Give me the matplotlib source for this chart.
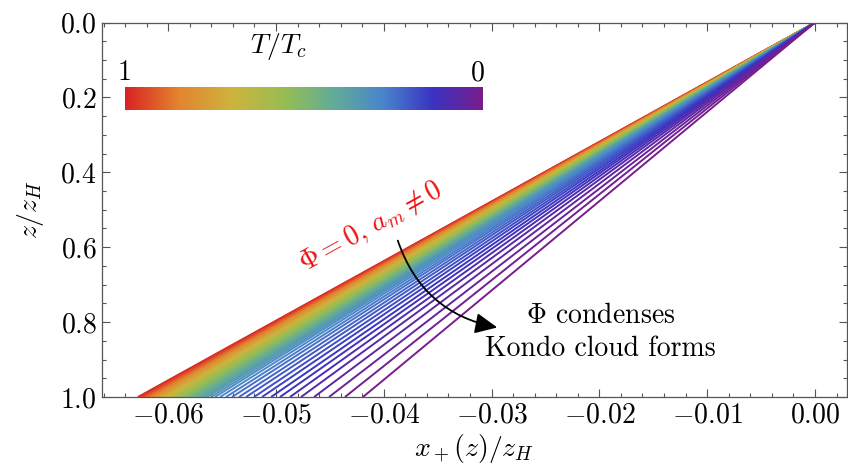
import numpy as np
import matplotlib
matplotlib.use("Agg")
import matplotlib.pyplot as plt
from matplotlib.colors import LinearSegmentedColormap
from matplotlib.patches import FancyArrowPatch

plt.rcParams['font.family'] = 'serif'
plt.rcParams['font.serif'] = ['cmr10']
plt.rcParams['mathtext.fontset'] = 'cm'
plt.rcParams['axes.formatter.use_mathtext'] = True

# T/Tc of each curve (1 -> 0) and where each curve reaches z/zH = 1
t_ratio = np.linspace(1.0, 0.0, 50)
x_end = [-0.06280, -0.06263, -0.06247, -0.06230, -0.06213, -0.06197, -0.06179,
         -0.06161, -0.06144, -0.06126, -0.06109, -0.06090, -0.06072, -0.06053,
         -0.06034, -0.06015, -0.05995, -0.05976, -0.05956, -0.05936, -0.05916,
         -0.05895, -0.05874, -0.05853, -0.05831, -0.05809, -0.05787, -0.05764,
         -0.05740, -0.05716, -0.05691, -0.05665, -0.05638, -0.05603, -0.05566,
         -0.05519, -0.05464, -0.05408, -0.05343, -0.05278, -0.05204, -0.05130,
         -0.05046, -0.04963, -0.04870, -0.04768, -0.04647, -0.04508, -0.04360,
         -0.04193]

rainbow = LinearSegmentedColormap.from_list("rainbow_m", [
    (0.00, "#d92323"), (0.15, "#e3852f"), (0.30, "#cdb43c"),
    (0.45, "#95bd55"), (0.58, "#63ad96"), (0.72, "#4a86cc"),
    (0.86, "#3a34c2"), (1.00, "#7a1c8c")])

fig = plt.figure(figsize=(8.48, 4.72), dpi=100)
ax = fig.add_axes([0.1199, 0.1589, 0.8789, 0.7934])

for t, xe in zip(t_ratio, x_end):
    ax.plot([0.0, xe], [0.0, 1.0], color=rainbow(1 - t), lw=1.4,
            solid_capstyle='butt')

ax.set_xlim(-0.06617, 0.00297)
ax.set_ylim(1.0, 0.0)
ax.set_xticks([-0.06, -0.05, -0.04, -0.03, -0.02, -0.01, 0.0])
ax.set_xticklabels(["$-0.06$", "$-0.05$", "$-0.04$", "$-0.03$", "$-0.02$", "$-0.01$", "$0.00$"])
ax.set_yticks([0.0, 0.2, 0.4, 0.6, 0.8, 1.0])
ax.set_yticklabels(["$0.0$", "$0.2$", "$0.4$", "$0.6$", "$0.8$", "$1.0$"])
ax.set_xticks(np.arange(-0.066, 0.003, 0.002), minor=True)
ax.set_yticks(np.arange(0.0, 1.001, 0.05), minor=True)
ax.tick_params(which='both', direction='in', top=True, right=True,
               labelsize=20, color='#555555', width=0.8)
ax.tick_params(which='major', length=6)
ax.tick_params(which='minor', length=3)
for s in ax.spines.values():
    s.set_color('#555555')
    s.set_linewidth(0.9)

ax.set_xlabel("$x_+(z)/z_H$", fontsize=20, labelpad=3)
ax.set_ylabel("$z/z_H$", fontsize=20, labelpad=10)

ax.text(-0.0412, 0.545, r"$\Phi=0,\, a_m\neq 0$", color='#ee1111', fontsize=20,
        rotation=29, ha='center', va='center', zorder=6)
ax.text(-0.0199, 0.828, "$\\Phi$ condenses\nKondo cloud forms", fontsize=20,
        ha='center', va='center', linespacing=1.35, zorder=6)

arr = FancyArrowPatch((-0.03878, 0.5754), (-0.02922, 0.8157),
                      connectionstyle="arc3,rad=0.3",
                      arrowstyle="-|>,head_length=0.75,head_width=0.35",
                      mutation_scale=18, lw=1.3, color='black', zorder=7)
ax.add_patch(arr)

# colour bar inset
cax = fig.add_axes([125 / 848, 1 - 110.5 / 472, 358 / 848, 24 / 472])
cax.imshow(np.linspace(0, 1, 256)[None, :], aspect='auto', cmap=rainbow)
cax.set_axis_off()
fig.text(124 / 848, 1 - 73 / 472, "$1$", fontsize=20, ha='center', va='center')
fig.text(477 / 848, 1 - 73 / 472, "$0$", fontsize=20, ha='center', va='center')
fig.text(278 / 848, 1 - 47 / 472, "$T/T_c$", fontsize=20, ha='center', va='center')

fig.savefig("out.png", dpi=100)
